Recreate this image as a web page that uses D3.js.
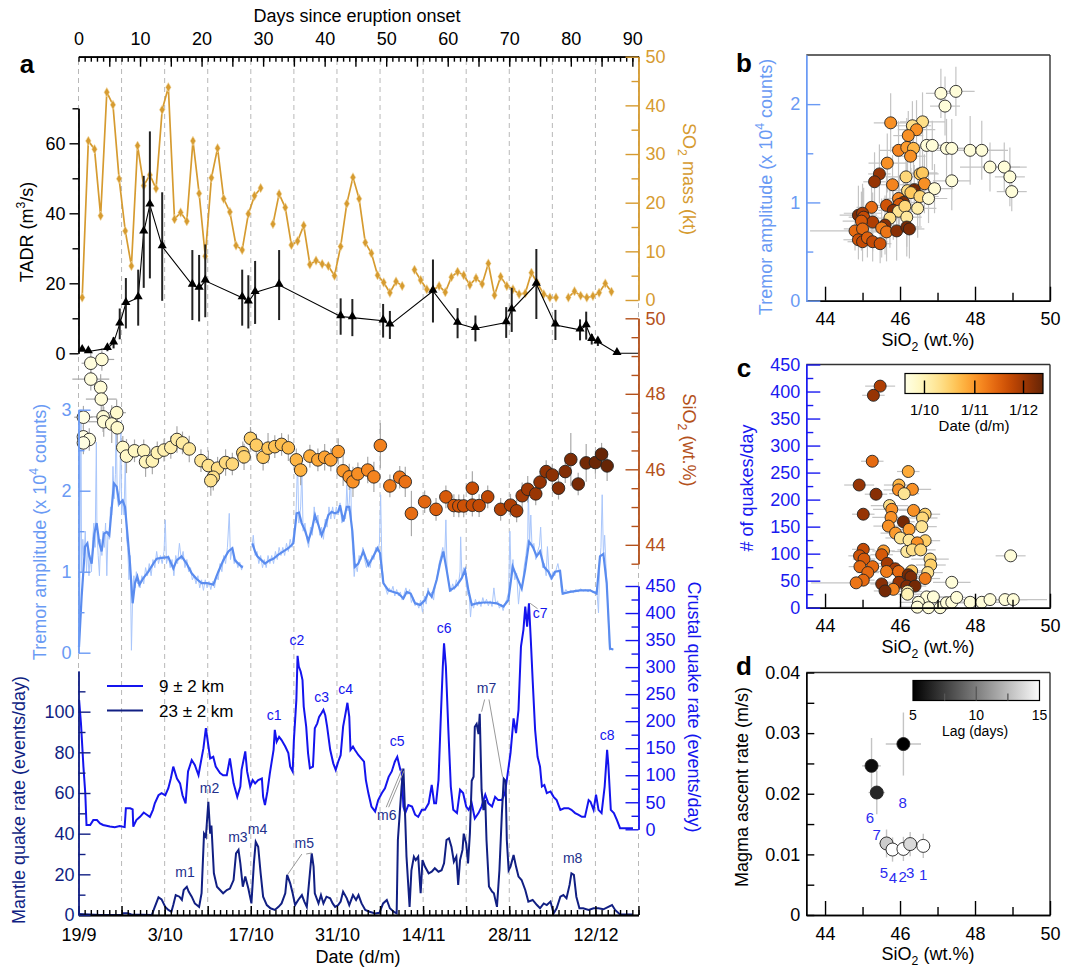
<!DOCTYPE html>
<html><head><meta charset="utf-8">
<script src="https://cdn.jsdelivr.net/npm/d3@7"></script>
<style>body{margin:0;background:#fff}svg{display:block}</style>
</head><body>
<script>
// ---------------- Data ----------------
// SO2 mass (kt), daily [day since onset, value]; null marks a missing day
const so2Series = [[0.6,0.5],[1.6,32.7],[2.6,31.0],[3.6,17.3],[4.6,42.7],[5.6,40.1],[6.6,24.9],[7.6,14.2],[8.6,7.0],[9.6,31.7],[10.6,23.5],[11.6,25.7],[12.6,22.9],[13.6,39.1],[14.6,43.7],[15.6,16.6],[16.6,18.0],[17.6,16.2],[18.6,32.7],[19.6,21.9],[20.6,9.0],[21.6,25.1],[22.6,31.2],[23.6,20.8],[24.6,18.1],[25.6,11.2],[26.6,10.3],[27.6,17.7],[28.6,21.4],[29.6,23.0],[30.6,null],[31.6,15.6],[32.6,21.8],[33.6,19.0],[34.6,11.3],[35.6,12.1],[36.6,15.3],[37.6,7.3],[38.6,8.1],[39.6,7.4],[40.6,7.0],[41.6,5.0],[42.6,11.0],[43.6,19.8],[44.6,25.2],[45.6,20.8],[46.6,11.8],[47.6,9.6],[48.6,5.1],[49.6,3.6],[50.6,1.5],[51.6,3.8],[52.6,2.9],[53.6,null],[54.6,6.2],[55.6,4.1],[56.6,2.2],[57.6,2.0],[58.6,2.9],[59.6,1.6],[60.6,4.7],[61.6,5.8],[62.6,5.1],[63.6,3.1],[64.6,4.5],[65.6,3.3],[66.6,7.5],[67.6,1.0],[68.6,4.8],[69.6,2.9],[70.6,2.2],[71.6,1.2],[72.6,1.4],[73.6,5.6],[74.6,3.4],[75.6,1.2],[76.6,0.5],[77.6,0.5],[78.6,null],[79.6,0.5],[80.6,1.8],[81.6,0.9],[82.6,0.5],[83.6,0.8],[84.6,1.5],[85.6,3.4],[86.6,1.7]];

// TADR (m3/s) [day, value, error]; error null = line end without marker
const tadrSeries = [[0.6,0.9,0],[1.6,0.5,0],[4.7,1.4,0.8],[5.7,3.0,1.6],[6.7,8.4,4.4],[7.7,14.3,7.2],[9.7,15.9,8],[10.6,34.7,16],[11.6,42.4,21],[13.6,30.5,15.5],[18.5,19.5,10],[19.6,18.6,9.5],[20.6,20.7,10.4],[26.6,15.9,8],[27.6,14.7,7.6],[28.7,17.4,9],[32.6,19.5,10],[42.6,10.5,5.2],[44.5,10.2,5.3],[49.5,9.3,4.8],[50.6,8.1,4],[57.6,17.8,9],[61.6,8.6,4.3],[64.5,7.1,3.7],[69.5,8.8,4.4],[70.4,12.4,6.3],[74.4,19.8,10],[77.5,8.1,4.3],[81.5,6.7,3],[82.5,7.9,4],[83.4,4.0,1.5],[84.4,3.3,1.2],[87.5,0.0,0],[91,0.0,null]];

// Bulk lava SiO2 (wt.%) [day, value, yErr, xErr(days)]
const sio2Samples = [[2.0,48.81,0.3,1.5],[3.8,48.91,0.3,2.0],[2.0,48.39,0.3,3.0],[3.6,48.17,0.35,1.0],[3.7,47.86,0.35,2.5],[0.8,47.38,0.3,1.5],[4.0,47.39,0.4,2.0],[4.1,47.26,0.4,2.5],[6.2,47.50,0.35,1.5],[5.4,47.20,0.5,1.0],[6.3,47.10,0.4,1.0],[0.8,46.86,0.3,0.8],[1.75,46.79,0.3,0.8],[0.8,46.70,0.3,0.5],[7.2,46.58,0.3,0],[7.8,46.35,0.45,0],[9.1,46.49,0.3,0],[10.6,46.49,0.3,0],[10.9,46.20,0.4,0],[12.0,46.22,0.35,0],[12.8,46.44,0.3,0],[13.9,46.51,0.3,0],[15.0,46.58,0.3,0],[16.0,46.79,0.35,0],[16.9,46.70,0.3,0],[18.0,46.54,0.35,0],[19.9,46.23,0.3,0],[21.1,46.10,0.4,0],[22.6,46.03,0.3,0],[21.9,45.79,0.35,0],[21.5,45.70,0.4,0],[23.9,46.18,0.35,0],[25.0,46.14,0.3,0],[26.7,46.44,0.3,0],[26.9,46.33,0.35,0],[27.95,46.82,0.3,0],[28.9,46.64,0.3,0],[30.0,46.32,0.35,0],[30.8,46.56,0.4,0],[31.9,46.60,0.3,0],[33.0,46.66,0.3,0],[34.1,46.57,0.35,0],[35.4,46.25,0.3,0],[36.1,45.98,0.4,0],[37.6,46.35,0.3,0],[38.9,46.25,0.3,0],[40.0,46.32,0.35,0],[41.0,46.25,0.3,0],[42.2,46.47,0.35,0],[43.0,45.96,0.4,0],[44.0,45.80,0.35,0],[44.6,45.67,0.4,0],[45.4,45.88,0.3,0],[47.0,45.98,0.35,0],[48.0,45.80,0.4,0],[49.05,46.63,0.6,0],[50.6,45.56,0.3,0],[52.2,45.79,0.3,0],[53.1,45.67,0.4,0],[54.1,44.83,0.6,0],[56.25,45.14,0.3,0],[58.1,44.94,0.3,0],[59.7,45.27,0.3,0],[61.0,45.04,0.3,0],[61.8,45.03,0.3,0],[62.6,45.03,0.3,0],[64.0,45.50,0.45,0],[64.0,45.05,0.3,0],[65.1,45.04,0.3,0],[66.5,45.27,0.3,0],[68.6,44.94,0.3,0],[70.2,45.05,0.3,0],[71.2,44.90,0.3,0],[72.1,45.30,0.35,0],[73.0,45.47,0.35,0],[74.3,45.35,0.3,0],[75.0,45.66,0.3,0],[76.0,45.94,0.3,0],[77.0,45.85,0.3,0],[78.0,45.50,0.3,0],[79.1,45.94,0.3,0],[80.0,46.26,0.7,0],[81.2,45.61,0.3,0],[82.5,46.17,0.5,0],[84.0,46.18,0.3,0],[85.0,46.40,0.3,0],[85.9,46.09,0.4,0]];

// Tremor amplitude (x1e4 counts), smoothed [day, value]
const tremorSmooth = [[0.08,0.07],[0.51,0.69],[1.06,1.31],[1.44,1.35],[1.76,1.19],[2.14,1.10],[2.57,1.47],[2.95,1.60],[3.39,1.35],[3.76,1.25],[4.14,1.47],[4.58,1.49],[5.01,1.45],[5.39,1.78],[5.77,2.09],[6.20,2.05],[6.64,1.84],[7.18,1.88],[7.56,1.80],[7.99,1.43],[8.37,1.10],[8.80,0.61],[9.18,0.86],[9.56,0.94],[9.89,0.84],[10.54,0.92],[11.35,1.00],[12.16,1.10],[12.70,1.16],[13.52,1.17],[14.60,1.18],[15.41,1.04],[15.95,1.14],[16.76,1.19],[17.57,1.10],[18.39,0.98],[19.20,0.91],[20.01,0.86],[20.83,0.86],[21.91,0.84],[22.72,1.00],[23.53,1.14],[24.35,1.25],[25.00,1.29],[25.43,1.14],[25.97,1.10],[26.68,1.05],[27.4,null],[28.25,1.35],[28.68,1.25],[29.06,1.19],[29.77,1.14],[30.31,1.10],[31.01,1.14],[31.66,1.16],[32.48,1.21],[33.29,1.25],[34.10,1.29],[34.91,1.35],[35.45,1.72],[35.83,1.73],[36.26,1.60],[36.80,1.51],[37.34,1.38],[37.89,1.51],[38.43,1.70],[38.97,1.58],[39.51,1.45],[40.06,1.56],[40.60,1.70],[41.14,1.74],[41.68,1.72],[42.22,1.74],[42.5,1.82],[43.04,1.62],[43.58,1.80],[44.01,1.80],[44.5,1.50],[44.9,1.06],[45.47,1.10],[46.29,1.25],[47.10,1.08],[47.92,1.19],[48.57,1.29],[49.00,1.23],[49.54,0.86],[50.35,0.77],[51.17,0.75],[51.98,0.73],[52.79,0.67],[53.33,0.75],[53.98,0.73],[54.69,0.61],[55.50,0.59],[56.31,0.65],[56.85,0.75],[57.39,0.69],[58.21,0.90],[58.75,1.10],[59.29,1.25],[59.83,1.02],[60.37,0.77],[61.19,0.81],[61.73,0.86],[62.27,0.92],[62.81,1.02],[63.36,0.77],[63.90,0.59],[64.71,0.61],[65.79,0.62],[66.88,0.62],[67.96,0.61],[69.04,0.57],[69.86,0.65],[70.56,1.06],[71.21,0.94],[72.02,0.79],[72.57,1.02],[73.22,1.37],[73.81,1.31],[74.46,1.19],[75.00,1.25],[75.65,1.06],[76.36,1.00],[76.90,0.92],[77.44,1.00],[78.25,1.01],[78.68,0.73],[79.87,0.75],[81.49,0.77],[83.12,0.77],[84.20,0.73],[84.74,1.19],[85.29,1.22],[85.83,0.86],[86.37,0.05],[86.91,0.04]];

// Tremor amplitude, unsmoothed [day, value]
const tremorRaw = [[0.0,0.05],[0.2,0.6],[0.4,3.0],[0.5,1.0],[0.7,1.4],[0.9,1.2],[1.1,1.5],[1.3,1.0],[1.5,1.3],[1.7,0.95],[1.9,1.2],[2.1,1.0],[2.3,1.4],[2.5,1.6],[2.7,1.3],[2.9,2.6],[3.0,1.5],[3.2,1.2],[3.4,0.95],[3.6,1.4],[3.8,1.2],[4.0,1.5],[4.2,1.3],[4.4,1.6],[4.6,0.95],[4.8,1.5],[5.0,1.4],[5.2,1.8],[5.4,1.7],[5.6,2.3],[5.8,1.9],[6.0,2.2],[6.1,2.95],[6.3,1.9],[6.5,1.8],[6.7,2.0],[6.9,2.85],[7.0,1.7],[7.2,1.9],[7.4,1.7],[7.6,2.4],[7.8,1.4],[8.0,1.3],[8.2,0.9],[8.4,1.2],[8.6,0.03],[8.8,0.7],[9.0,0.95],[9.2,0.8],[9.4,1.0],[9.6,0.85],[9.8,0.9],[10.0,0.8],[10.3,0.95],[10.6,0.85],[10.9,1.05],[11.2,0.95],[11.5,1.1],[11.8,0.95],[12.1,1.15],[12.4,1.05],[12.7,1.25],[13.0,1.1],[13.3,1.2],[13.6,1.1],[13.9,1.25],[14.1,1.64],[14.3,1.1],[14.6,1.2],[14.9,1.05],[15.2,1.15],[15.5,0.95],[15.8,1.2],[16.1,1.1],[16.4,1.35],[16.7,1.15],[17.0,1.25],[17.3,1.05],[17.6,1.15],[17.9,1.0],[18.2,1.05],[18.5,0.9],[18.8,0.95],[19.1,0.85],[19.4,0.95],[19.7,0.8],[20.0,0.9],[20.3,0.77],[20.6,0.9],[20.9,0.8],[21.2,0.88],[21.5,0.78],[21.8,0.88],[22.1,0.8],[22.4,0.95],[22.7,0.9],[23.0,1.1],[23.3,1.0],[23.6,1.2],[23.9,1.1],[24.2,1.3],[24.5,1.72],[24.7,1.15],[25.0,1.3],[25.3,1.1],[25.6,1.15],[25.9,1.05],[26.2,1.12],[26.5,1.02],[26.7,1.08],[27.4,null],[28.2,1.3],[28.4,1.45],[28.7,1.2],[29.0,1.25],[29.3,1.1],[29.6,1.2],[29.9,1.05],[30.2,1.15],[30.5,1.05],[30.8,1.2],[31.1,1.1],[31.4,1.2],[31.7,1.1],[32.0,1.25],[32.3,1.15],[32.6,1.3],[32.9,1.2],[33.2,1.3],[33.5,1.2],[33.8,1.35],[34.1,1.25],[34.4,1.4],[34.7,1.3],[35.0,1.5],[35.3,1.6],[35.6,2.36],[35.8,1.6],[36.1,1.8],[36.3,2.25],[36.5,1.5],[36.8,1.6],[37.1,1.4],[37.4,1.3],[37.7,1.55],[38.0,1.45],[38.3,1.8],[38.6,1.6],[38.9,1.7],[39.2,1.45],[39.5,1.55],[39.8,1.4],[40.1,1.65],[40.4,1.55],[40.7,1.8],[41.0,1.65],[41.3,1.8],[41.6,1.65],[41.9,1.8],[42.2,1.7],[42.5,1.85],[42.8,1.6],[43.1,1.7],[43.4,1.65],[43.6,2.07],[43.8,1.75],[44.0,1.85],[44.2,2.25],[44.4,1.5],[44.6,1.2],[44.8,0.94],[45.0,1.1],[45.3,1.0],[45.6,1.2],[45.9,1.15],[46.2,1.3],[46.5,1.15],[46.8,1.05],[47.1,1.15],[47.4,1.05],[47.7,1.2],[48.0,1.15],[48.3,1.3],[48.6,1.25],[48.9,1.35],[49.1,1.95],[49.3,1.1],[49.6,0.85],[49.9,0.8],[50.2,0.72],[50.5,0.8],[50.8,0.75],[51.1,0.82],[51.4,0.7],[51.7,0.78],[52.0,0.7],[52.3,0.75],[52.6,0.65],[52.9,0.72],[53.2,0.8],[53.5,0.72],[53.8,0.78],[54.1,0.62],[54.4,0.68],[54.7,0.58],[55.0,0.62],[55.3,0.55],[55.6,0.65],[55.9,0.5],[56.2,0.7],[56.5,0.6],[56.8,0.8],[57.1,0.7],[57.4,0.75],[57.7,0.65],[58.0,0.85],[58.3,0.95],[58.6,1.1],[58.9,1.2],[59.2,1.3],[59.5,1.15],[59.7,1.64],[59.9,1.0],[60.2,0.85],[60.5,0.75],[60.8,0.85],[61.1,0.78],[61.4,0.9],[61.7,0.82],[62.0,1.0],[62.1,1.43],[62.3,0.95],[62.6,1.05],[62.9,0.95],[63.2,0.72],[63.5,0.7],[63.7,0.44],[63.9,0.62],[64.2,0.55],[64.5,0.66],[64.8,0.58],[65.1,0.64],[65.4,0.57],[65.7,0.68],[66.0,0.6],[66.3,0.66],[66.6,0.58],[66.9,0.64],[67.2,0.57],[67.5,0.8],[67.8,0.6],[68.1,0.64],[68.4,0.55],[68.7,0.6],[69.0,0.52],[69.3,0.6],[69.6,0.66],[69.9,0.75],[70.1,1.5],[70.3,0.95],[70.6,1.15],[70.9,0.9],[71.2,0.98],[71.5,0.6],[71.8,0.85],[72.1,0.8],[72.4,1.05],[72.7,1.2],[73.0,1.4],[73.1,2.03],[73.3,1.35],[73.5,1.7],[73.7,1.3],[74.0,1.35],[74.3,1.15],[74.6,1.25],[74.9,1.32],[75.1,1.55],[75.4,1.05],[75.7,1.1],[76.0,0.95],[76.2,1.31],[76.5,0.95],[76.8,0.9],[77.1,1.0],[77.4,0.95],[77.7,1.05],[77.9,1.1],[78.2,0.98],[78.5,0.75],[78.8,0.72],[79.2,0.78],[79.6,0.74],[80.0,0.77],[80.4,0.74],[80.8,0.78],[81.2,0.75],[81.6,0.79],[82.0,0.76],[82.4,0.78],[82.8,0.75],[83.2,0.78],[83.6,0.74],[84.0,0.76],[84.3,0.7],[84.5,0.49],[84.7,1.1],[84.9,1.3],[85.1,1.95],[85.3,1.2],[85.5,1.45],[85.7,1.1],[85.9,0.8],[86.1,0.4],[86.3,0.03],[86.5,0.05],[86.9,0.04]];

// Crustal (9 +/- 2 km) quake rate, events/day [day, value]
const crustalRate = [[0.1,239],[0.4,196],[0.8,116],[1.1,67],[1.3,8],[1.9,8],[2.4,17],[3.0,17],[3.5,11],[4.0,8],[5.1,5],[5.9,4],[6.7,6],[7.5,4],[7.7,39],[8.4,39],[8.8,37],[8.9,5],[9.4,17],[10.0,23],[10.6,31],[11.1,27],[11.6,23],[12.1,36],[12.4,48],[13.0,63],[13.5,67],[14.1,63],[14.6,76],[15.0,94],[15.4,116],[16.0,94],[16.5,85],[16.9,63],[17.4,48],[17.8,107],[18.4,128],[18.9,119],[19.5,100],[19.7,113],[20.3,150],[20.7,187],[20.9,171],[21.4,131],[21.9,134],[22.3,116],[23.0,104],[23.5,100],[24.1,100],[24.6,131],[25.2,85],[25.8,60],[26.3,79],[26.5,110],[27.1,144],[27.4,107],[27.9,79],[28.3,91],[28.7,85],[29.2,91],[29.8,94],[30.0,60],[30.3,45],[30.7,70],[31.1,104],[31.7,147],[31.9,184],[32.2,162],[32.6,171],[33.0,165],[33.6,153],[34.1,141],[34.4,116],[34.8,107],[35.0,165],[35.4,239],[35.6,321],[35.8,301],[36.1,292],[36.4,276],[36.6,227],[37.0,190],[37.3,141],[37.6,113],[38.1,116],[38.4,187],[38.8,196],[39.1,208],[39.5,215],[39.8,221],[40.1,211],[40.4,190],[40.9,147],[41.4,122],[41.8,110],[42.2,125],[42.6,137],[43.0,190],[43.4,215],[43.7,234],[44.0,208],[44.2,147],[44.6,153],[44.9,147],[45.5,137],[46.4,125],[46.7,91],[47.1,67],[47.6,42],[48.2,33],[48.7,54],[49.3,67],[49.8,76],[50.4,97],[50.9,107],[51.4,125],[51.8,134],[52.3,110],[52.5,110],[52.8,42],[53.1,30],[53.6,45],[54.2,42],[54.7,27],[55.2,23],[55.8,36],[56.3,36],[56.9,48],[57.4,82],[57.8,48],[58.1,48],[58.5,91],[58.9,215],[59.2,301],[59.4,344],[59.7,301],[60.1,184],[60.5,79],[60.9,36],[61.5,30],[62.0,73],[62.5,67],[63.0,42],[63.4,36],[63.9,48],[64.4,20],[65.0,30],[65.5,42],[66.1,64],[66.6,48],[67.2,42],[67.7,60],[68.2,54],[68.8,54],[69.3,67],[69.9,116],[70.2,141],[70.7,205],[71.1,178],[71.5,221],[71.9,338],[72.3,369],[72.6,412],[72.9,375],[73.2,418],[73.5,350],[73.8,276],[74.2,184],[74.6,134],[75.0,116],[75.3,79],[75.7,82],[76.1,67],[76.7,70],[77.2,60],[77.7,54],[78.3,36],[78.9,39],[79.6,39],[80.1,36],[80.7,30],[81.2,27],[81.8,23],[82.3,23],[82.9,54],[83.2,51],[83.7,36],[84.1,64],[84.5,36],[85.0,30],[85.5,79],[85.9,147],[86.1,119],[86.5,36],[87.0,30],[87.5,17],[88.0,2],[90.1,2]];

// Mantle (23 +/- 2 km) quake rate, events/day [day, value]
const mantleRate = [[0,0.5],[3.5,0],[7.0,0],[7.3,0.8],[8.0,0.8],[8.6,0.3],[11.9,0],[12.4,4],[13.0,8.7],[13.5,7.7],[14.1,4],[14.6,2.5],[15.1,1.6],[15.4,4.9],[15.8,9.8],[16.4,9],[16.8,7.4],[17.1,12.3],[17.6,13.9],[17.9,11.5],[18.4,9],[18.9,5.7],[19.6,4],[20.0,10.7],[20.4,40],[20.7,38.5],[21.1,55.7],[21.4,40],[21.6,44],[22.0,20.5],[22.5,13.9],[23.0,12.3],[23.5,10.7],[24.1,12.3],[24.6,13],[25.2,17.2],[25.6,30.3],[26.0,32],[26.3,25.4],[26.7,13.9],[27.1,18.9],[27.6,13],[28.1,5.7],[28.5,25.4],[28.8,36],[29.2,33.6],[29.6,20.5],[30.0,9],[30.6,4.9],[31.2,3.3],[31.9,2.5],[32.5,4],[33.0,5.7],[33.6,10.7],[33.9,19.7],[34.4,15.6],[34.8,10.7],[35.2,4.9],[35.7,7.4],[36.3,9.8],[36.7,6.6],[37.1,4],[37.6,20.5],[37.9,30.3],[38.2,23.8],[38.4,10.7],[39.0,5.7],[39.4,9.8],[39.8,5.7],[40.3,9],[40.9,8.2],[41.3,5.7],[41.7,4],[42.2,4.9],[42.6,6.6],[43.0,11.5],[43.6,8.2],[44.0,4.9],[44.6,9.8],[45.1,7.4],[45.5,9.8],[46.0,5.7],[46.6,2.5],[47.3,1.6],[48.2,0.8],[48.9,1.1],[49.5,5.7],[50.1,7.4],[50.6,3.3],[51.2,1.6],[51.7,0.8],[51.9,36.9],[52.2,50],[52.5,63],[52.8,72],[53.1,46.7],[53.3,28.7],[53.8,4],[54.1,22],[54.5,28.7],[54.8,27],[55.2,28.7],[55.6,10.7],[55.9,27],[56.3,23.8],[56.9,20.5],[57.4,21.3],[57.9,23],[58.5,21.3],[59.0,22],[59.4,25.4],[59.8,36.9],[60.2,37.7],[60.6,33.6],[61.0,26.2],[61.4,28.7],[61.7,14.8],[62.0,27],[62.4,32],[62.6,40],[63.0,35.2],[63.3,25.4],[63.6,40],[63.9,66],[64.2,68],[64.4,92.6],[64.7,94],[65.0,89],[65.2,99],[65.5,61.5],[65.8,51.6],[66.1,56.6],[66.3,36.9],[66.7,14],[67.2,11.5],[67.5,10.7],[68.0,4],[68.4,22],[68.8,50],[69.1,67],[69.4,66],[69.6,36.9],[69.9,22],[70.2,23.8],[70.7,29.5],[71.1,23.8],[71.5,18.9],[72.0,17.2],[72.6,12.3],[73.1,6.6],[73.8,7.4],[74.5,4.9],[75.0,3.3],[75.6,5.7],[76.1,4.9],[76.7,6.6],[77.2,0.8],[77.7,3.3],[78.3,9],[78.8,9.8],[79.3,8.2],[79.8,14.8],[80.1,20.5],[80.5,19.7],[80.9,9],[81.4,3.3],[82.0,3.3],[82.9,2.5],[83.7,3.3],[84.5,3.3],[85.3,2.8],[86.1,4],[86.7,4.9],[87.2,2.5],[88.0,0.3],[90.1,0.3]];

// Peak annotations: [text, day, value]
const crustalPeaks = [["c1",31.8,202],["c2",35.5,340],["c3",39.5,236],["c4",43.4,251],["c5",51.8,154],["c6",59.4,363],["c8",85.9,165]];
const mantlePeaks = [["m1",17.3,18.5],["m2",21.3,60],["m3",25.9,36],["m4",29.1,40],["m8",80.3,25.5]];

// Time axes
const dayTicks = [0,10,20,30,40,50,60,70,80,90];
const dateTickDays = [0,14,28,42,56,70,84];
const dateLabels = ["19/9","3/10","17/10","31/10","14/11","28/11","12/12"];

// Panel b: [SiO2, tremor amplitude, day, xErr, yErr]
const panelB = [[47.09,2.11,3,0.4,0.25],[47.49,2.13,3,0.5,0.25],[47.20,1.98,3,0.4,0.3],[45.75,1.81,45,0.45,0.3],[46.60,1.82,22,0.6,0.3],[46.33,1.78,22,0.5,0.25],[46.44,1.74,45,0.5,0.3],[46.22,1.68,45,0.4,0.25],[46.71,1.58,3,0.5,0.3],[46.86,1.58,3,0.5,0.25],[47.24,1.55,3,0.6,0.3],[47.38,1.55,3,0.6,0.3],[47.87,1.53,3,0.9,0.35],[48.18,1.53,3,0.7,0.3],[45.96,1.53,48,0.5,0.3],[46.18,1.56,42,0.4,0.3],[46.36,1.55,35,0.4,0.25],[46.28,1.47,45,0.4,0.3],[45.66,1.40,45,0.5,0.3],[48.40,1.36,3,0.8,0.25],[48.78,1.36,3,0.6,0.25],[48.93,1.26,3,0.4,0.3],[48.98,1.11,3,0.4,0.2],[45.45,1.29,75,0.3,0.3],[45.32,1.21,75,0.3,0.3],[46.16,1.26,25,0.5,0.3],[46.53,1.29,30,0.5,0.25],[46.60,1.30,30,0.4,0.25],[47.38,1.22,3,0.5,0.3],[45.80,1.18,48,0.4,0.3],[46.65,1.19,45,0.4,0.3],[46.92,1.14,5,0.5,0.25],[46.20,1.12,22,0.5,0.3],[46.38,1.13,82,0.4,0.25],[46.29,1.10,30,0.4,0.25],[46.53,1.06,25,0.5,0.3],[46.76,1.04,5,0.5,0.25],[45.96,1.04,48,0.4,0.25],[46.09,1.00,80,0.4,0.3],[45.98,0.98,60,0.4,0.3],[45.64,0.97,62,0.4,0.3],[45.24,0.95,55,0.4,0.3],[45.82,0.92,78,0.4,0.3],[46.47,0.94,15,0.5,0.3],[45.96,0.91,20,0.4,0.25],[46.13,0.96,25,0.4,0.25],[44.89,0.87,80,0.5,0.3],[45.00,0.89,72,0.5,0.3],[45.03,0.85,65,0.4,0.3],[45.27,0.80,70,0.4,0.3],[45.73,0.84,22,0.4,0.3],[46.18,0.85,18,0.4,0.3],[44.97,0.81,60,0.5,0.3],[45.60,0.77,78,0.4,0.3],[45.51,0.74,50,0.4,0.3],[45.64,0.70,52,0.4,0.3],[45.91,0.71,78,0.4,0.3],[46.18,0.75,82,0.4,0.3],[46.25,0.73,80,0.4,0.3],[44.80,0.71,55,1.2,0.2],[45.00,0.73,55,0.5,0.2],[44.89,0.62,62,0.4,0.2],[45.00,0.60,65,0.4,0.2],[45.13,0.64,58,0.4,0.2],[45.27,0.60,65,0.4,0.2],[45.47,0.58,62,0.3,0.2]];

// Panel c: [SiO2, quakes/day, day, xErr]
const panelC = [[45.47,410,70,0.4],[45.29,393,75,0.3],[45.26,271,55,0.3],[46.22,252,38,0.3],[44.91,227,75,0.4],[45.97,227,35,0.4],[46.33,219,45,0.5],[45.96,218,45,0.4],[46.11,211,20,0.4],[45.36,210,78,0.3],[45.72,189,22,0.5],[45.78,182,45,0.5],[46.36,180,45,0.4],[46.67,173,28,0.4],[45.02,173,75,0.3],[45.76,167,45,0.5],[46.60,166,25,0.4],[46.09,159,82,0.3],[45.69,151,45,0.4],[46.58,150,20,0.4],[46.24,145,42,0.4],[45.88,138,42,0.4],[46.01,129,20,0.4],[46.24,125,18,0.4],[46.67,124,28,0.4],[46.46,120,45,0.4],[45.02,108,65,0.3],[45.56,105,42,0.3],[46.18,104,18,0.4],[46.33,107,22,0.4],[46.55,107,25,0.4],[44.92,96,62,0.3],[45.51,98,60,0.3],[45.04,90,60,0.3],[46.80,90,22,0.5],[48.95,96,3,0.4],[46.82,79,28,0.4],[45.66,82,72,0.3],[45.27,76,55,0.3],[44.93,76,55,0.3],[45.87,72,72,0.3],[45.96,67,55,0.3],[45.64,67,50,0.3],[45.14,65,55,0.3],[46.31,68,30,0.4],[46.74,65,22,0.4],[46.22,61,82,0.3],[46.29,57,80,0.3],[45.02,51,55,0.3],[44.83,46,52,1.2],[46.67,54,50,0.4],[45.51,44,78,0.3],[45.97,47,75,0.3],[46.18,40,80,0.3],[46.40,40,82,0.3],[45.82,34,48,0.3],[45.60,31,82,0.3],[46.20,30,15,0.4],[47.38,47,3,0.5],[46.71,20,3,0.4],[46.89,20,3,0.5],[46.49,10,3,0.5],[46.46,1,3,0.5],[46.76,0,3,0.5],[47.07,0,3,0.5],[47.24,9,3,0.5],[47.38,10,3,0.5],[47.51,19,3,0.5],[47.87,10,3,0.6],[48.18,10,3,0.6],[48.40,15,3,0.8],[48.80,15,3,0.6],[49.02,15,3,0.9],[46.20,25,12,0.4]];

// Panel d: [SiO2, ascent rate (m/s), lag (days), xErr, yErr]
const panelD = [[46.09,0.0282,5.0,0.47,0.0052],[45.24,0.0246,5.5,0.25,0.0046],[45.38,0.0202,6.5,0.22,0.0036],[45.64,0.0118,13,0.2,0.0023],[45.80,0.0108,15,0.15,0.002],[46.09,0.0109,15,0.15,0.002],[46.27,0.0117,13.5,0.15,0.002],[46.62,0.0114,15,0.2,0.002]];
// Episode numbers: [text, SiO2, rate]
const episodeLabels = [["1",46.62,0.0066],["2",46.07,0.0063],["3",46.27,0.0069],["4",45.81,0.0061],["5",45.57,0.0069],["6",45.20,0.0160],["7",45.38,0.0132],["8",46.07,0.0184]];

// ---------------- Drawing ----------------
const FONT = "'Liberation Sans', Arial, Helvetica, sans-serif";
const C_GOLD = "#d69b30", C_SIO2 = "#b4511b", C_TREM = "#6a9af4", C_TREM_S = "#5a8cef",
      C_TREM_R = "#a9c6fb", C_CRUST = "#1414ee", C_MANTLE = "#111f83";
const fmtG = d3.format("~g");

const svg = d3.select("body").append("svg").attr("width",1065).attr("height",969)
  .attr("font-family", FONT);

const x = d3.scaleLinear().domain([0,91]).range([78.5,638.5]);
const yTADR = d3.scaleLinear().domain([0,70]).range([353.3,108.3]);
const ySO2 = d3.scaleLinear().domain([0,50]).range([300,56.7]);
const ySiO2 = d3.scaleLinear().domain([43.5,50]).range([563.7,318.3]);
const yTrem = d3.scaleLinear().domain([0,3]).range([652.7,409.7]);
const yCrust = d3.scaleLinear().domain([0,450]).range([829.3,586]);
const yMantle = d3.scaleLinear().domain([0,120]).range([915,671]);
const dateColor = d3.scaleSequential(d3.interpolateYlOrBr).domain([0,85]);

function styleAxis(g, color, fs) {
  g.attr("font-family", FONT).attr("font-size", fs || 18);
  g.select(".domain").attr("stroke", color).attr("stroke-width", 1.4);
  g.selectAll(".tick line").attr("stroke", color).attr("stroke-width", 1.4);
  g.selectAll(".tick text").attr("fill", color);
  return g;
}
function addAxis(gen, tx, ty, color, fs) {
  return styleAxis(svg.append("g").attr("transform", `translate(${tx},${ty})`).call(gen), color, fs);
}
function rich(t, parts, fs) {
  let shift = 0;
  parts.forEach(([s, m]) => {
    const want = m === "sub" ? fs * 0.3 : m === "sup" ? -fs * 0.42 : 0;
    const ts = t.append("tspan").text(s).attr("dy", want - shift);
    if (m) ts.attr("font-size", fs * 0.68);
    shift = want;
  });
  return t;
}
function vText(xp, yp, rot, color, parts, fs) {
  const t = svg.append("text").attr("transform", `translate(${xp},${yp}) rotate(${rot})`)
    .attr("text-anchor","middle").attr("fill", color).attr("font-size", fs);
  return rich(t, parts, fs);
}

// weekly guide lines
svg.append("g").selectAll("line").data(d3.range(0, 92, 7)).join("line")
  .attr("x1", d => x(d)).attr("x2", d => x(d)).attr("y1", 60).attr("y2", 915)
  .attr("stroke", "#b8b8b8").attr("stroke-width", 1).attr("stroke-dasharray", "5,4");

// tremor
const lineT = d3.line().defined(d => d[1] != null).x(d => x(d[0]));
svg.append("path").datum(tremorRaw).attr("fill","none").attr("stroke",C_TREM_R).attr("stroke-width",1)
  .attr("d", lineT.y(d => yTrem(d[1])));
svg.append("path").datum(tremorSmooth).attr("fill","none").attr("stroke",C_TREM_S).attr("stroke-width",2.2)
  .attr("d", lineT.y(d => yTrem(d[1])));

// quake rates
svg.append("path").datum(crustalRate).attr("fill","none").attr("stroke",C_CRUST).attr("stroke-width",2)
  .attr("d", d3.line().x(d => x(d[0])).y(d => yCrust(d[1])));
svg.append("path").datum(mantleRate).attr("fill","none").attr("stroke",C_MANTLE).attr("stroke-width",2)
  .attr("d", d3.line().x(d => x(d[0])).y(d => yMantle(d[1])));

// SiO2 samples
const gS = svg.append("g");
gS.selectAll("line.ey").data(sio2Samples).join("line")
  .attr("x1", d => x(d[0])).attr("x2", d => x(d[0]))
  .attr("y1", d => ySiO2(d[1] - d[2])).attr("y2", d => ySiO2(d[1] + d[2]))
  .attr("stroke", "#a9a9a9").attr("stroke-width", 1.2);
gS.selectAll("line.ex").data(sio2Samples.filter(d => d[3] > 0)).join("line")
  .attr("x1", d => x(d[0] - d[3])).attr("x2", d => x(d[0] + d[3]))
  .attr("y1", d => ySiO2(d[1])).attr("y2", d => ySiO2(d[1]))
  .attr("stroke", "#a9a9a9").attr("stroke-width", 1.2);
gS.selectAll("circle").data(sio2Samples).join("circle")
  .attr("cx", d => x(d[0])).attr("cy", d => ySiO2(d[1])).attr("r", 6.3)
  .attr("fill", d => dateColor(d[0])).attr("stroke", "#222").attr("stroke-width", 0.9);

// SO2
svg.append("path").datum(so2Series).attr("fill","none").attr("stroke",C_GOLD).attr("stroke-width",1.7)
  .attr("d", d3.line().defined(d => d[1] != null).x(d => x(d[0])).y(d => ySO2(d[1])));
svg.append("g").selectAll("path").data(so2Series.filter(d => d[1] != null)).join("path")
  .attr("transform", d => `translate(${x(d[0])},${ySO2(d[1])})`)
  .attr("d", d3.symbol().type(d3.symbolDiamond).size(26)).attr("fill", C_GOLD)
  .attr("stroke", "#f3dcaa").attr("stroke-width", 0.6);

// TADR
svg.append("path").datum(tadrSeries).attr("fill","none").attr("stroke","#000").attr("stroke-width",1.1)
  .attr("d", d3.line().x(d => x(d[0])).y(d => yTADR(d[1])));
const tadrPts = tadrSeries.filter(d => d[2] != null);
svg.append("g").selectAll("line").data(tadrPts.filter(d => d[2] > 0)).join("line")
  .attr("x1", d => x(d[0])).attr("x2", d => x(d[0]))
  .attr("y1", d => yTADR(Math.max(0, d[1] - d[2]))).attr("y2", d => yTADR(d[1] + d[2]))
  .attr("stroke", "#222").attr("stroke-width", 2);
svg.append("g").selectAll("path").data(tadrPts).join("path")
  .attr("transform", d => `translate(${x(d[0])},${yTADR(d[1]) - 1})`)
  .attr("d", d3.symbol().type(d3.symbolTriangle).size(36)).attr("fill", "#000");

// peak labels
svg.append("g").selectAll("text").data(crustalPeaks).join("text")
  .attr("x", d => x(d[1])).attr("y", d => yCrust(d[2])).attr("text-anchor","middle")
  .attr("font-size", 14).attr("fill", C_CRUST).text(d => d[0]);
svg.append("g").selectAll("text").data(mantlePeaks).join("text")
  .attr("x", d => x(d[1])).attr("y", d => yMantle(d[2])).attr("text-anchor","middle")
  .attr("font-size", 14).attr("fill", "#22308c").text(d => d[0]);
// labels with leader lines
const leaders = [
  {t:"c7", col:C_CRUST, lx:x(75.0), ly:yCrust(400) + 5, lines:[[73.4,418,74.6,408]], ser:"c"},
  {t:"m5", col:"#22308c", lx:x(36.7), ly:yMantle(33), lines:[[36.3,30,34.0,20],[37.0,30,37.9,30.5]], ser:"m"},
  {t:"m6", col:"#22308c", lx:x(50.1), ly:yMantle(46.5), lines:[[50.0,53,52.6,72],[50.4,53,52.9,71]], ser:"m"},
  {t:"m7", col:"#22308c", lx:x(66.3), ly:yMantle(109), lines:[[66.0,106,65.5,100],[66.7,106,68.9,68]], ser:"m"}
];
leaders.forEach(L => {
  const ys = L.ser === "c" ? yCrust : yMantle;
  L.lines.forEach(([a, b, c, d]) => svg.append("line")
    .attr("x1", x(a)).attr("y1", ys(b)).attr("x2", x(c)).attr("y2", ys(d))
    .attr("stroke", "#999").attr("stroke-width", 1));
  svg.append("text").attr("x", L.lx).attr("y", L.ly).attr("text-anchor","middle")
    .attr("font-size", 14).attr("fill", L.col).text(L.t);
});

// ---- axes of panel a ----
// top: days since onset
addAxis(d3.axisTop(x).tickValues(d3.range(0,92,1)).tickSizeInner(-5).tickSizeOuter(0).tickFormat(""), 0, 56.7, "#000");
addAxis(d3.axisTop(x).tickValues(d3.range(5,91,5)).tickSizeInner(-10).tickSizeOuter(0).tickFormat(""), 0, 56.7, "#000");
addAxis(d3.axisTop(x).tickValues(dayTicks).tickSize(0).tickPadding(12).tickFormat(fmtG), 0, 56.7, "#000");
svg.append("text").attr("x", 357).attr("y", 22).attr("text-anchor","middle").attr("font-size",18).text("Days since eruption onset");
// bottom: dates
addAxis(d3.axisBottom(x).tickValues(d3.range(0,92,1)).tickSizeInner(-5).tickSizeOuter(0).tickFormat(""), 0, 915, "#000");
addAxis(d3.axisBottom(x).tickValues(d3.range(0,92,7)).tickSizeInner(-9).tickSizeOuter(0).tickFormat(""), 0, 915, "#000");
addAxis(d3.axisBottom(x).tickValues(dateTickDays).tickSize(0).tickPadding(13)
  .tickFormat((d, i) => dateLabels[i]), 0, 915, "#000");
svg.append("text").attr("x", 358).attr("y", 963).attr("text-anchor","middle").attr("font-size",18).text("Date (d/m)");

// left: TADR
addAxis(d3.axisLeft(yTADR).tickValues([0,20,40,60]).tickSize(9).tickPadding(4).tickSizeOuter(0).tickFormat(fmtG), 78.5, 0, "#000");
addAxis(d3.axisLeft(yTADR).tickValues([10,30,50,70]).tickSize(6).tickSizeOuter(0).tickFormat(""), 78.5, 0, "#000");
vText(33, 232, -90, "#000", [["TADR (m"],["3","sup"],["/s)"]], 18);
// left: tremor
addAxis(d3.axisLeft(yTrem).tickValues([0,1,2,3]).tickSizeInner(-12).tickPadding(7).tickSizeOuter(0).tickFormat(fmtG), 78.5, 0, C_TREM);
addAxis(d3.axisLeft(yTrem).tickValues([0.5,1.5,2.5]).tickSizeInner(-6).tickSizeOuter(0).tickFormat(""), 78.5, 0, C_TREM);
vText(46, 532, -90, C_TREM, [["Tremor amplitude (x 10"],["4","sup"],[" counts)"]], 18);
// left: mantle quakes
addAxis(d3.axisLeft(yMantle).tickValues([0,20,40,60,80,100]).tickSizeInner(-12).tickPadding(4).tickSizeOuter(0).tickFormat(fmtG), 78.5, 0, C_MANTLE);
addAxis(d3.axisLeft(yMantle).tickValues([10,30,50,70,90,110]).tickSizeInner(-7).tickSizeOuter(0).tickFormat(""), 78.5, 0, C_MANTLE);
vText(25, 800, -90, C_MANTLE, [["Mantle quake rate (events/day)"]], 18);

// right: SO2
addAxis(d3.axisRight(ySO2).tickValues([0,10,20,30,40,50]).tickSizeInner(-13).tickPadding(7).tickSizeOuter(0).tickFormat(fmtG), 638.5, 0, C_GOLD);
addAxis(d3.axisRight(ySO2).tickValues([5,15,25,35,45]).tickSizeInner(-7).tickSizeOuter(0).tickFormat(""), 638.5, 0, C_GOLD);
vText(683, 179, 90, C_GOLD, [["SO"],["2","sub"],[" mass (kt)"]], 18);
// right: SiO2
addAxis(d3.axisRight(ySiO2).tickValues([44,46,48,50]).tickSizeInner(-13).tickPadding(7).tickSizeOuter(0).tickFormat(fmtG), 638.5, 0, C_SIO2);
addAxis(d3.axisRight(ySiO2).tickValues([43.5,44.5,45,45.5,46.5,47,47.5,48.5,49,49.5]).tickSizeInner(-7).tickSizeOuter(0).tickFormat(""), 638.5, 0, C_SIO2);
vText(683, 440, 90, C_SIO2, [["SiO"],["2","sub"],[" (wt.%)"]], 18);
// right: crustal quakes
addAxis(d3.axisRight(yCrust).tickValues(d3.range(0,451,50)).tickSizeInner(-13).tickPadding(7).tickSizeOuter(0).tickFormat(fmtG), 638.5, 0, C_CRUST);
addAxis(d3.axisRight(yCrust).tickValues(d3.range(25,450,50)).tickSizeInner(-7).tickSizeOuter(0).tickFormat(""), 638.5, 0, C_CRUST);
vText(688, 707, 90, C_CRUST, [["Crustal quake rate (events/day)"]], 18);

// legend
const legendItems = [["9 \u00b1 2 km", C_CRUST], ["23 \u00b1 2 km", C_MANTLE]];
legendItems.forEach(([t, c], i) => {
  const yy = 686 + i * 24.5;
  svg.append("line").attr("x1",107).attr("x2",143).attr("y1",yy).attr("y2",yy).attr("stroke",c).attr("stroke-width",2);
  svg.append("text").attr("x",159).attr("y",yy + 6).attr("font-size",17).text(t);
});

svg.append("text").attr("x", 27).attr("y", 73).attr("text-anchor","middle").attr("font-size",26).attr("font-weight","bold").text("a");

// ---------------- Panels b, c, d ----------------
const xS = d3.scaleLinear().domain([43.5,50]).range([806.3,1050]);
function framePanel(y, yTop, yBot, yColor, major, minor, fmt, majLen, minLen, letter, letterY) {
  svg.append("line").attr("x1",806.3).attr("x2",1050).attr("y1",yTop).attr("y2",yTop).attr("stroke","#333").attr("stroke-width",1.4);
  svg.append("line").attr("x1",1050).attr("x2",1050).attr("y1",yTop).attr("y2",yBot).attr("stroke","#333").attr("stroke-width",1.4);
  addAxis(d3.axisBottom(xS).tickValues([44,46,48,50]).tickSizeInner(-14).tickPadding(12).tickSizeOuter(0).tickFormat(fmtG), 0, yBot, "#000");
  addAxis(d3.axisBottom(xS).tickValues([45,47,49]).tickSizeInner(-8).tickSizeOuter(0).tickFormat(""), 0, yBot, "#000");
  addAxis(d3.axisLeft(y).tickValues(major).tickSizeInner(-majLen).tickPadding(6).tickSizeOuter(0).tickFormat(fmt), 806.3, 0, yColor);
  addAxis(d3.axisLeft(y).tickValues(minor).tickSizeInner(-minLen).tickSizeOuter(0).tickFormat(""), 806.3, 0, yColor);
  const t = svg.append("text").attr("x", 928).attr("y", yBot + 45).attr("text-anchor","middle").attr("font-size",18);
  rich(t, [["SiO"],["2","sub"],[" (wt.%)"]], 18);
  svg.append("text").attr("x", 744).attr("y", letterY).attr("text-anchor","middle").attr("font-size",26).attr("font-weight","bold").text(letter);
}

// panel b
const yB = d3.scaleLinear().domain([0,2.5]).range([300.7,55]);
const gB = svg.append("g");
gB.selectAll("line.bx").data(panelB).join("line")
  .attr("x1", d => xS(d[0] - d[3])).attr("x2", d => xS(d[0] + d[3])).attr("y1", d => yB(d[1])).attr("y2", d => yB(d[1]))
  .attr("stroke", "#c4c4c4").attr("stroke-width", 1.2);
gB.selectAll("line.by").data(panelB).join("line")
  .attr("x1", d => xS(d[0])).attr("x2", d => xS(d[0])).attr("y1", d => yB(d[1] - d[4])).attr("y2", d => yB(d[1] + d[4]))
  .attr("stroke", "#c4c4c4").attr("stroke-width", 1.2);
gB.selectAll("circle").data(panelB).join("circle")
  .attr("cx", d => xS(d[0])).attr("cy", d => yB(d[1])).attr("r", 6)
  .attr("fill", d => dateColor(d[2])).attr("stroke", "#222").attr("stroke-width", 0.9);
framePanel(yB, 55, 300.7, C_TREM, [0,1,2], [0.5,1.5], fmtG, 14, 7, "b", 72);
vText(772, 187, -90, C_TREM, [["Tremor amplitude (x 10"],["4","sup"],[" counts)"]], 18);

// panel c
const yC = d3.scaleLinear().domain([0,450]).range([607.7,364.5]);
const gC = svg.append("g");
gC.selectAll("line").data(panelC).join("line")
  .attr("x1", d => xS(d[0] - d[3])).attr("x2", d => Math.min(1050, xS(d[0] + d[3]))).attr("y1", d => yC(d[1])).attr("y2", d => yC(d[1]))
  .attr("stroke", "#c4c4c4").attr("stroke-width", 1.2);
gC.selectAll("circle").data(panelC).join("circle")
  .attr("cx", d => xS(d[0])).attr("cy", d => yC(d[1])).attr("r", 6)
  .attr("fill", d => dateColor(d[2])).attr("stroke", "#222").attr("stroke-width", 0.9);
framePanel(yC, 364.5, 607.7, "#1a1af0", d3.range(0,451,50), d3.range(25,450,50), fmtG, 14, 7, "c", 377);
vText(753, 488, -90, "#1a1af0", [["# of quakes/day"]], 18);

// date colour bar
const defs = svg.append("defs");
const gradDate = defs.append("linearGradient").attr("id","gradDate");
d3.range(0, 1.001, 0.05).forEach(t => gradDate.append("stop").attr("offset", t).attr("stop-color", dateColor(t * 85)));
const cbDate = d3.scaleLinear().domain([0,85]).range([905,1043]);
svg.append("rect").attr("x",905).attr("y",373.5).attr("width",138).attr("height",20)
  .attr("fill","url(#gradDate)").attr("stroke","#000").attr("stroke-width",1.2);
const cbDateTicks = [[12,"1/10"],[43,"1/11"],[73,"1/12"]];
cbDateTicks.forEach(([d, s]) => {
  svg.append("line").attr("x1",cbDate(d)).attr("x2",cbDate(d)).attr("y1",393.5).attr("y2",380.5).attr("stroke","#000").attr("stroke-width",1.4);
  svg.append("text").attr("x",cbDate(d)).attr("y",415).attr("text-anchor","middle").attr("font-size",15).text(s);
});
svg.append("text").attr("x",974).attr("y",431).attr("text-anchor","middle").attr("font-size",15).text("Date (d/m)");

// panel d
const yD = d3.scaleLinear().domain([0,0.04]).range([915,672.5]);
const lagColor = d3.scaleLinear().domain([5,15]).range(["#000","#fff"]);
const gD = svg.append("g");
gD.selectAll("line.dx").data(panelD).join("line")
  .attr("x1", d => xS(d[0] - d[3])).attr("x2", d => xS(d[0] + d[3])).attr("y1", d => yD(d[1])).attr("y2", d => yD(d[1]))
  .attr("stroke", "#c4c4c4").attr("stroke-width", 1.4);
gD.selectAll("line.dy").data(panelD).join("line")
  .attr("x1", d => xS(d[0])).attr("x2", d => xS(d[0])).attr("y1", d => yD(d[1] - d[4])).attr("y2", d => yD(d[1] + d[4]))
  .attr("stroke", "#c4c4c4").attr("stroke-width", 1.4);
gD.selectAll("circle").data(panelD).join("circle")
  .attr("cx", d => xS(d[0])).attr("cy", d => yD(d[1])).attr("r", 6.5)
  .attr("fill", d => lagColor(d[2])).attr("stroke", "#222").attr("stroke-width", 0.9);
gD.selectAll("text").data(episodeLabels).join("text")
  .attr("x", d => xS(d[1])).attr("y", d => yD(d[2]) + 5).attr("text-anchor","middle")
  .attr("font-size", 15).attr("fill", "#2b2bf0").text(d => d[0]);
framePanel(yD, 672.5, 915, "#000", [0,0.01,0.02,0.03,0.04], [0.005,0.015,0.025,0.035], d => d === 0 ? "0" : d3.format(".2f")(d), 8, 8, "d", 675);
vText(748, 787, -90, "#000", [["Magma ascent rate (m/s)"]], 18);

// lag colour bar
const gradLag = defs.append("linearGradient").attr("id","gradLag");
gradLag.append("stop").attr("offset",0).attr("stop-color","#000");
gradLag.append("stop").attr("offset",1).attr("stop-color","#fafafa");
const cbLag = d3.scaleLinear().domain([5,15]).range([913,1039.5]);
svg.append("rect").attr("x",913).attr("y",680.5).attr("width",126.5).attr("height",20)
  .attr("fill","url(#gradLag)").attr("stroke","#000").attr("stroke-width",1.2);
const lagTicks = [[7.5,7],[10,14],[12.5,7]];
lagTicks.forEach(([v, len]) => svg.append("line").attr("x1",cbLag(v)).attr("x2",cbLag(v)).attr("y1",700.5).attr("y2",700.5 - len).attr("stroke","#555").attr("stroke-width",1.3));
[5,10,15].forEach(v => svg.append("text").attr("x",cbLag(v)).attr("y",720).attr("text-anchor","middle").attr("font-size",14).text(v));
svg.append("text").attr("x",975).attr("y",736).attr("text-anchor","middle").attr("font-size",14).text("Lag (days)");
</script>
</body></html>
